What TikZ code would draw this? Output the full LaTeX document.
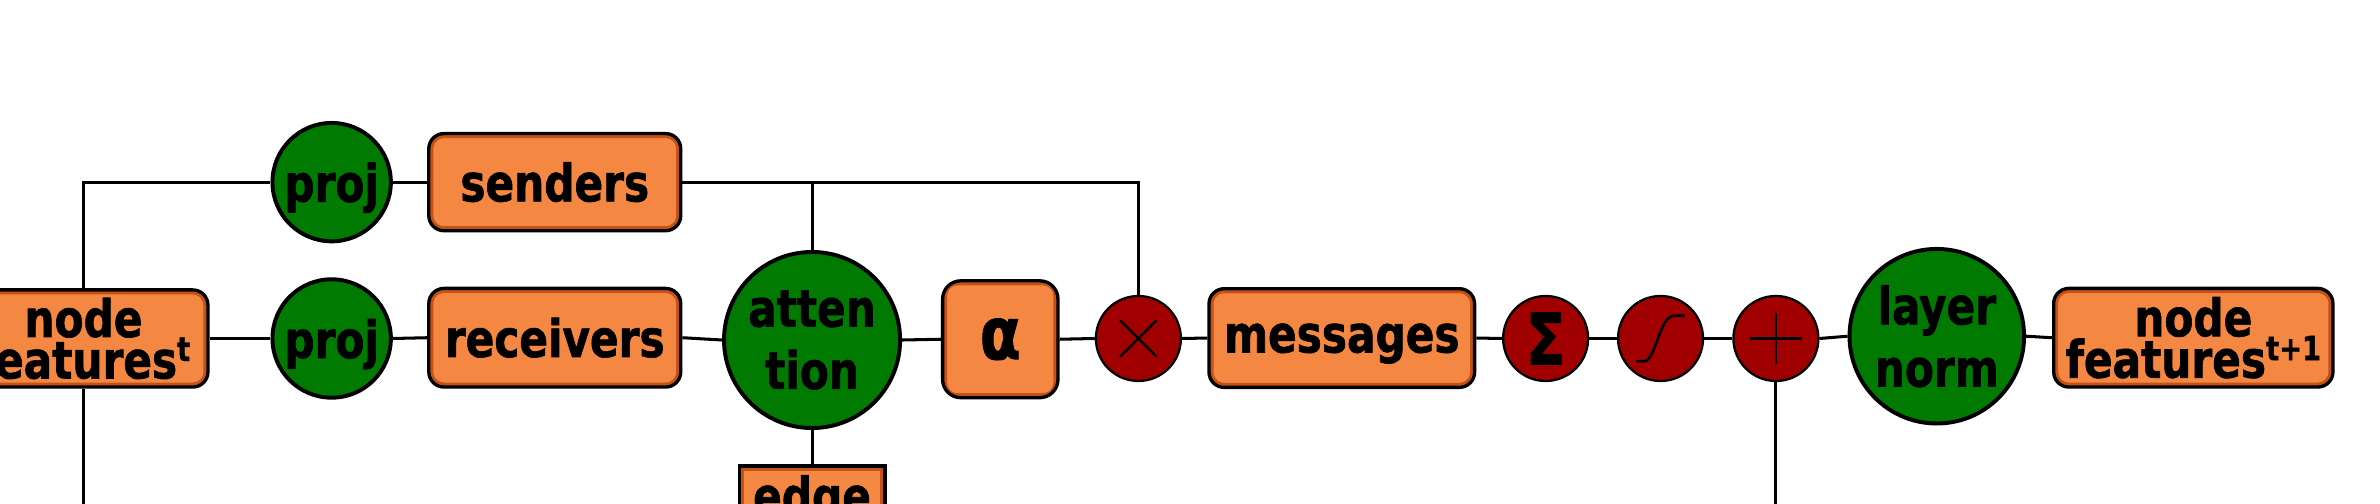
\documentclass[tikz,border=0pt]{standalone}
\usepackage{fontspec}
\setmainfont{DejaVu Sans Condensed}[FakeStretch=0.91, BoldFeatures={FakeBold=1.2}]
\definecolor{orfill}{RGB}{244,135,66}
\definecolor{ordark}{RGB}{196,82,22}
\definecolor{grn}{RGB}{0,122,0}
\definecolor{redc}{RGB}{160,0,0}
\newcommand\supx[1]{\smash{\raisebox{11.5pt}{\fontsize{22}{22}\selectfont #1}}}
\begin{document}
\begin{tikzpicture}[x=1pt,y=-1pt,
  conn/.style={line width=2pt},
  lbl/.style={font=\bfseries\fontsize{34}{24.5}\selectfont},
  lbltall/.style={font=\bfseries\fontsize{34}{41}\selectfont},
  obox/.style={rectangle, rounded corners=10pt, fill=orfill, draw=black, line width=2.2pt,
    inner sep=0pt, align=center, lbl,
    path picture={\draw[ordark, line width=6pt, rounded corners=10pt]
      (path picture bounding box.south west) rectangle (path picture bounding box.north east);}},
  sbox/.style={rectangle, fill=orfill, draw=black, line width=2.2pt,
    inner xsep=0pt, inner ysep=6pt, align=center, lbl,
    path picture={\draw[ordark, line width=6pt]
      (path picture bounding box.south west) rectangle (path picture bounding box.north east);}},
  gcirc/.style={circle, fill=grn, draw=black, line width=2.6pt, inner sep=0pt, align=center},
  rcirc/.style={circle, fill=redc, draw=black, line width=1.5pt, minimum size=56pt, inner sep=0pt},
  glyph/.style={line width=1.7pt}
]
\clip (0,0) rectangle (1568,332);
\fill[white] (0,0) rectangle (1568,332);
\coordinate (bot) at (0,345);

% nodes
\node[obox, minimum width=164pt, minimum height=64pt] (nf) at (55,223) {node\\features\supx{t}};
\node[gcirc, minimum size=78pt, lbl, text depth=0pt] (projS) at (218.5,120) {proj};
\node[gcirc, minimum size=78pt, lbl, text depth=0pt] (projR) at (218.5,223) {proj};
\node[obox, minimum width=166pt, minimum height=64pt] (senders) at (365.5,120) {senders};
\node[obox, minimum width=166pt, minimum height=65pt] (receivers) at (365.5,222.5) {receivers};
\node[gcirc, minimum size=116pt, lbltall] (att) at (535,224) {atten\\tion};
\node[sbox, minimum width=96pt, anchor=north] (edge) at (535,306) {edge};
\node[obox, rounded corners=12pt, minimum width=76pt, minimum height=77pt,
  font=\bfseries\fontsize{48}{48}\selectfont] (alpha) at (659,223.5) {α};
\node[rcirc] (times) at (750,223) {};
\node[obox, minimum width=175pt, minimum height=65pt, text depth=0pt] (msg) at (884,222.7) {messages};
\node[rcirc, font=\bfseries\fontsize{47}{47}\selectfont] (sigma) at (1018.3,223) {Σ};
\node[rcirc] (sigm) at (1094,223) {};
\node[rcirc] (plus) at (1170,223) {};
\node[gcirc, minimum size=115pt, lbltall] (ln) at (1276,221.5) {layer\\norm};
\node[obox, minimum width=184pt, minimum height=65pt] (nf2) at (1445,222.5) {node\\features\supx{t+1}};

% glyphs inside red circles
\draw[glyph, shift={(times.center)}] (-12,-12) -- (12,12) (-12,12) -- (12,-12);
\draw[glyph, shift={(sigm.center)}] (-16,15) -- (-11,15) .. controls (-3,15) and (-1,-15) .. (9,-15) -- (16,-15);
\draw[glyph, shift={(plus.center)}] (-17,0) -- (17,0) (0,-17) -- (0,17);

% connectors
\draw[conn] (nf.north) |- (projS.west);
\draw[conn] (nf.south) -- (nf.south |- bot);
\draw[conn] (nf.east) -- (projR.west);
\draw[conn] (projS.east) -- (senders.west);
\draw[conn] (projR.east) -- (receivers.west);
\draw[conn] (senders.east) -| (times.north);
\draw[conn] (att.north) -- (att.north |- senders.east);
\draw[conn] (receivers.east) -- (att.west);
\draw[conn] (att.south) -- (edge.north);
\draw[conn] (att.east) -- (alpha.west);
\draw[conn] (alpha.east) -- (times.west);
\draw[conn] (times.east) -- (msg.west);
\draw[conn] (msg.east) -- (sigma.west);
\draw[conn] (sigma.east) -- (sigm.west);
\draw[conn] (sigm.east) -- (plus.west);
\draw[conn] (plus.east) -- (ln.west);
\draw[conn] (ln.east) -- (nf2.west);
\draw[conn] (plus.south) -- (plus.south |- bot);
\end{tikzpicture}
\end{document}
